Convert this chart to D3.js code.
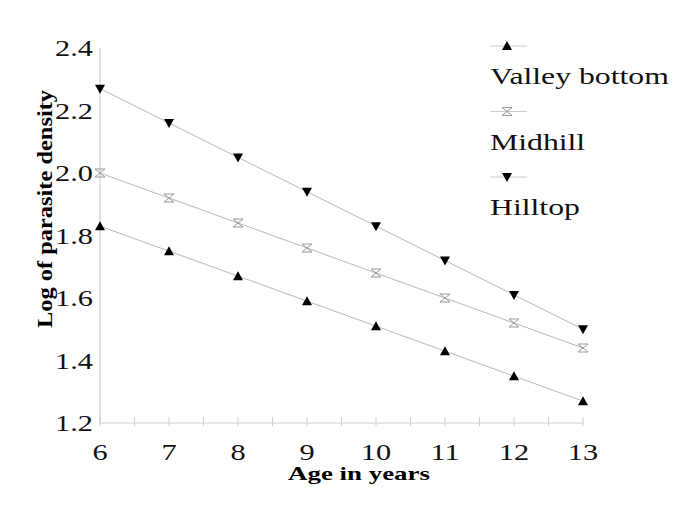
<!DOCTYPE html>
<html><head><meta charset="utf-8">
<script src="https://cdn.jsdelivr.net/npm/d3@7"></script>
<style>body{margin:0;background:#fff}svg{display:block}</style>
</head><body>
<svg id="c" width="685" height="512"></svg>
<script>
const ages = [6, 7, 8, 9, 10, 11, 12, 13];
const valleyBottom = [1.83, 1.75, 1.67, 1.59, 1.51, 1.43, 1.35, 1.27];
const midhill = [2.00, 1.92, 1.84, 1.76, 1.68, 1.60, 1.52, 1.44];
const hilltop = [2.27, 2.16, 2.05, 1.94, 1.83, 1.72, 1.61, 1.50];
const yTicks = [1.2, 1.4, 1.6, 1.8, 2.0, 2.2, 2.4];
const xTicks = [6, 7, 8, 9, 10, 11, 12, 13];
const seriesNames = ["Valley bottom", "Midhill", "Hilltop"];

const series = [
  {name: seriesNames[0], values: valleyBottom, marker: "up"},
  {name: seriesNames[1], values: midhill, marker: "hour"},
  {name: seriesNames[2], values: hilltop, marker: "down"}
];

const FONT = "Liberation Serif";
const svg = d3.select("#c");
const x = d3.scaleLinear().domain([6, 13]).range([100, 583]);
const y = d3.scaleLinear().domain([1.2, 2.4]).range([423, 48]);
const axisCol = "#cfcfcf";
const lineCol = "#b8b8b8";
const SX = 1.32;

svg.append("line").attr("x1", x(6)).attr("x2", x(13)).attr("y1", y(1.2)).attr("y2", y(1.2))
  .attr("stroke", axisCol).attr("stroke-width", 1.2);
svg.append("line").attr("x1", x(6)).attr("x2", x(6)).attr("y1", y(1.2)).attr("y2", y(2.4))
  .attr("stroke", axisCol).attr("stroke-width", 1.2);

const allTicks = d3.range(6, 13.01, 0.5);
svg.selectAll(".xt").data(allTicks).enter().append("line")
  .attr("x1", d => x(d)).attr("x2", d => x(d))
  .attr("y1", y(1.2) - 6).attr("y2", y(1.2) + 3)
  .attr("stroke", axisCol).attr("stroke-width", 1);

svg.selectAll(".xl").data(xTicks).enter().append("text")
  .attr("transform", d => `translate(${x(d)},460) scale(${SX},1)`)
  .attr("text-anchor", "middle").attr("font-family", FONT).attr("font-size", 23)
  .attr("fill", "#111").text(d => d);

svg.selectAll(".yl").data(yTicks).enter().append("text")
  .attr("transform", d => `translate(93,${y(d) + 8}) scale(${SX},1)`)
  .attr("text-anchor", "end").attr("font-family", FONT).attr("font-size", 23)
  .attr("fill", "#111").text(d => d.toFixed(1));

svg.append("text").attr("x", 359).attr("y", 480).attr("text-anchor", "middle")
  .attr("font-family", FONT).attr("font-size", 19).attr("font-weight", "bold")
  .attr("textLength", 142).attr("lengthAdjust", "spacingAndGlyphs")
  .text("Age in years");
svg.append("text").attr("transform", "translate(52,209) rotate(-90)")
  .attr("text-anchor", "middle").attr("font-family", FONT).attr("font-size", 21)
  .attr("font-weight", "bold").attr("textLength", 238).attr("lengthAdjust", "spacingAndGlyphs")
  .text("Log of parasite density");

function drawMarker(g, type, cx, cy) {
  if (type === "up") {
    g.append("path").attr("d", `M${cx},${cy-5}L${cx+5},${cy+4}L${cx-5},${cy+4}Z`).attr("fill", "#000");
  } else if (type === "down") {
    g.append("path").attr("d", `M${cx-5},${cy-4}L${cx+5},${cy-4}L${cx},${cy+5}Z`).attr("fill", "#000");
  } else {
    g.append("path").attr("d", `M${cx-5},${cy-4}L${cx+5},${cy-4}L${cx-5},${cy+4}L${cx+5},${cy+4}Z`)
      .attr("fill", "none").attr("stroke", "#999").attr("stroke-width", 1);
  }
}

const line = d3.line().x((d, i) => x(ages[i])).y(d => y(d));
series.forEach(s => {
  svg.append("path").attr("d", line(s.values)).attr("fill", "none")
    .attr("stroke", lineCol).attr("stroke-width", 1);
  const g = svg.append("g");
  s.values.forEach((v, i) => drawMarker(g, s.marker, x(ages[i]), y(v)));
});

series.forEach((s, i) => {
  const ly = 46 + i * 65.5;
  svg.append("line").attr("x1", 490).attr("x2", 527).attr("y1", ly).attr("y2", ly)
    .attr("stroke", "#cccccc").attr("stroke-width", 1);
  drawMarker(svg.append("g"), s.marker, 507, ly);
  svg.append("text").attr("transform", `translate(490,${ly + 38}) scale(1.38,1)`)
    .attr("font-family", FONT).attr("font-size", 23).attr("fill", "#111").text(s.name);
});
</script>
</body></html>
